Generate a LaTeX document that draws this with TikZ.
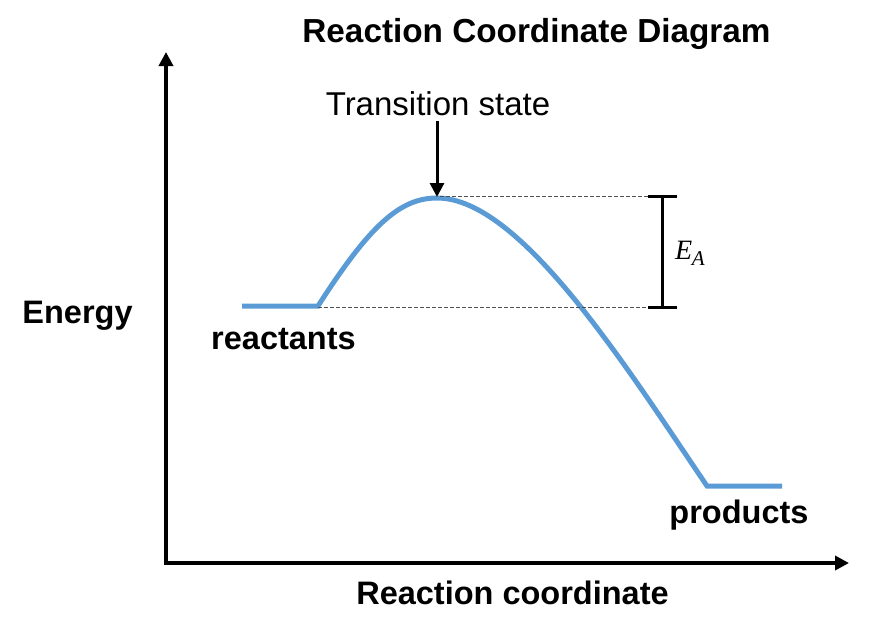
\documentclass[tikz,border=0pt]{standalone}
\usepackage{fontspec}
\setmainfont{Liberation Sans}
\newfontfamily\eafont{Liberation Serif}
\usetikzlibrary{arrows.meta}
\definecolor{curveblue}{RGB}{91,155,213}
\definecolor{guidegray}{RGB}{80,80,80}
\begin{document}
\begin{tikzpicture}[x=1pt,y=-1pt,
  lbl/.style={font=\fontsize{32.5}{39}\selectfont\bfseries, inner sep=0pt, anchor=base},
  titlestyle/.style={font=\fontsize{33.3}{40}\selectfont\bfseries, inner sep=0pt, anchor=base},
  tsstyle/.style={font=\fontsize{33}{40}\selectfont, inner sep=0pt, anchor=base},
  axis/.style={line width=4.7pt, line join=miter, {Triangle[length=14pt,width=14pt]}-{Triangle[length=14pt,width=14pt]}},
  curve/.style={line width=5pt, draw=curveblue},
  guide/.style={draw=guidegray, line width=1pt, dash pattern=on 3.5pt off 2.5pt},
  bracketline/.style={line width=3pt},
  tsarrow/.style={line width=3pt, -{Triangle[length=14pt,width=14pt]}},
]
\useasboundingbox (0,0) rectangle (869,634);

% axes
\coordinate (O) at (166,563);
\coordinate (ytip) at (166,52);
\coordinate (xtip) at (849,563);
\draw[axis] (ytip) -- (O) -- (xtip);

% energy curve
\coordinate (r0) at (242,306);
\coordinate (r1) at (318,306);
\coordinate (peak) at (437,198);
\coordinate (p0) at (707,486);
\coordinate (p1) at (782,486);
\draw[curve] (r0) -- (r1) .. controls (370,225) and (400,198) .. (peak)
  .. controls (520,198) and (625,365) .. (p0) -- (p1);

% guide lines
\coordinate (gtop0) at (440,196.5);
\coordinate (gtop1) at (648,196.5);
\coordinate (gbot0) at (318,307);
\coordinate (gbot1) at (648,307);
\draw[guide] (gtop0) -- (gtop1);
\draw[guide] (gbot0) -- (gbot1);

% E_A bracket
\coordinate (bt0) at (648,196.5);
\coordinate (bt1) at (677,196.5);
\coordinate (bm0) at (662,196.5);
\coordinate (bm1) at (662,307);
\coordinate (bb0) at (648,307);
\coordinate (bb1) at (677,307);
\draw[bracketline] (bt0) -- (bt1);
\draw[bracketline] (bm0) -- (bm1);
\draw[bracketline] (bb0) -- (bb1);
\node[anchor=base west, inner sep=0pt] (ea) at (675,259)
  {\fontsize{28}{32}\selectfont\eafont\itshape E\kern-0.5pt\raisebox{-6pt}{\fontsize{21}{24}\selectfont A}};

% texts
\node[titlestyle] (title) at (536.5,42) {Reaction Coordinate Diagram};
\node[tsstyle] (ts) at (438,115) {Transition state};
\draw[tsarrow, shorten <=5pt, shorten >=1pt] (ts.south -| peak) -- (peak);
\node[lbl] (energy) at (77.5,323) {Energy};
\node[lbl] (reac) at (283.5,349) {reactants};
\node[lbl] (prod) at (739,523) {products};
\node[lbl] (xlabel) at (512.5,604) {Reaction coordinate};
\end{tikzpicture}
\end{document}
